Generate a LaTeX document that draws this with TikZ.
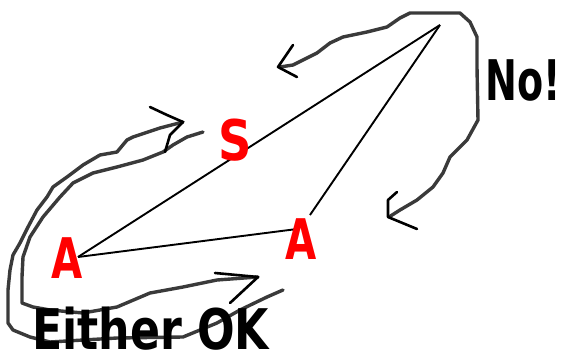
\documentclass[tikz,border=0pt]{standalone}
\usepackage{fontspec}
\setmainfont{DejaVu Sans}
\usetikzlibrary{positioning}
\definecolor{pen}{RGB}{58,58,58}
\definecolor{mark}{RGB}{255,0,0}
\begin{document}
\begin{tikzpicture}[x=1pt,y=-1pt,
  vx/.style={text=mark,font=\fontsize{56}{56}\selectfont\bfseries,inner sep=0pt,xscale=0.72},
  side/.style={line width=1.9pt,black},
  swirl/.style={line width=3.4pt,color=pen,line join=round,line cap=round},
  barb/.style={line width=2.6pt,black,line join=round,line cap=round},
  note/.style={font=\fontsize{56}{56}\selectfont\bfseries,inner sep=0pt,anchor=base west}
]
  \useasboundingbox (0,0) rectangle (563,356);
  \coordinate (top) at (440,25);
  \coordinate (a1) at (78,257);
  \coordinate (a2) at (297,229);
  \coordinate (a2t) at (310,215);
  \draw[side] (a1)--(top); \draw[side] (top)--(a2t); \draw[side] (a1)--(a2);
  \draw[swirl] (280,67)--(293,65)--(303,60)--(317,53)--(330,43)--(343,37)--(367,32)--(387,27)--(400,18)--(410,13)--(460,13)--(470,22)--(477,37)--(477,67)--(478,120)--(467,140)--(450,157)--(443,173)--(433,187)--(417,200)--(400,210)--(389,217);
  \draw[barb] (293,45)--(278,67)--(297,77);
  \draw[barb] (397,192)--(388,200)--(388,217)--(417,229);
  \draw[swirl] (203,132)--(187,137)--(173,145)--(163,152)--(143,160)--(117,167)--(93,173)--(73,183)--(60,197)--(43,217)--(30,237)--(23,257)--(22,277)--(22,303)--(33,307)--(50,310)--(83,313)--(117,307)--(150,293)--(183,287)--(217,280)--(258,277);
  \draw[barb] (215,273)--(258,277)--(230,303);
  \draw[swirl] (183,122)--(160,128)--(133,137)--(127,140)--(117,152)--(100,155)--(83,165)--(67,177)--(53,187)--(47,197)--(37,210)--(28,227)--(20,243)--(13,255)--(10,270)--(8,290)--(8,323)--(13,330)--(30,337)--(50,342)--(117,338)--(183,337)--(217,323)--(240,310)--(267,297)--(283,290);
  \draw[barb] (150,107)--(167,115)--(183,122)--(170,135)--(165,152);
  \node[vx] (v1) at (67,258) {A};
  \node[vx] (v2) at (301,239) {A};
  \node[vx,xscale=1.15] (s) at (235,140) {S};
  \node[note,xscale=0.79] (ok) at (32,349) {Either OK};
  \node[note,xscale=0.68] (no) at (485,100) {No!};
\end{tikzpicture}
\end{document}
